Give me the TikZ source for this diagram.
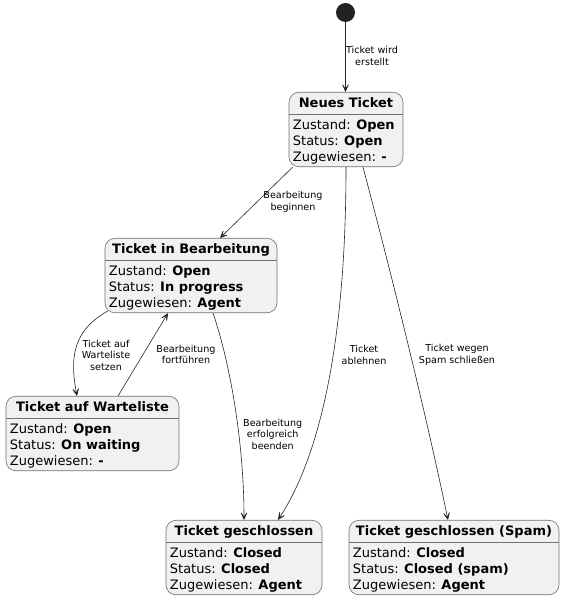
\documentclass[tikz,border=0pt]{standalone}
\usepackage{fontspec}
\setmainfont{DejaVu Sans}
\usepackage{tikz}
\usetikzlibrary{positioning,arrows.meta,calc}
\definecolor{umlFill}{HTML}{F1F1F1}
\definecolor{umlBorder}{HTML}{707070}
\definecolor{umlLine}{HTML}{262626}
\definecolor{umlStart}{HTML}{222222}
\newcommand{\titlefont}{\fontsize{13}{15}\selectfont\bfseries}
\newcommand{\bodyfont}{\fontsize{13}{16}\selectfont}
\newcommand{\labelfont}{\fontsize{9.6}{11.5}\selectfont}

\tikzset{
  zbox/.style={draw=umlBorder, fill=umlFill, line width=0.6pt, rounded corners=10pt,
    minimum height=74.5pt, inner sep=0pt, anchor=north},
  ztitle/.style={font=\titlefont, inner sep=0pt, anchor=base},
  zbody/.style={font=\bodyfont, align=left, inner sep=0pt, anchor=north west},
  zsep/.style={draw=umlBorder, line width=0.6pt},
  zedge/.style={draw=umlLine, line width=0.6pt, -{Stealth[length=10pt,width=9pt,inset=6.5pt]}},
  zlabel/.style={font=\labelfont, align=center, inner sep=1pt}
}

\begin{document}
\begin{tikzpicture}[x=1pt,y=1pt]
  \useasboundingbox (0,0) rectangle (566,599);

  % Start point
  \node[circle, fill=umlStart, minimum size=19pt, inner sep=0pt] (start) at (345.5,586.5) {};

  % Neues Ticket
  \node[zbox, minimum width=114pt] (neu) at (346,507) {};
  \node[ztitle] (neuT) at ($(neu.north)+(0,-15.8)$) {Neues Ticket};
  \draw[zsep] ($(neu.north west)+(0,-22.5)$) -- ($(neu.north east)+(0,-22.5)$);
  \node[zbody] (neuB) at ($(neu.north west)+(4,-27.8)$) {Zustand: \textbf{Open}\\Status: \textbf{Open}\\Zugewiesen: \textbf{-}};

  % Ticket in Bearbeitung
  \node[zbox, minimum width=172pt] (bear) at (191,361) {};
  \node[ztitle] (bearT) at ($(bear.north)+(0,-15.8)$) {Ticket in Bearbeitung};
  \draw[zsep] ($(bear.north west)+(0,-22.5)$) -- ($(bear.north east)+(0,-22.5)$);
  \node[zbody] (bearB) at ($(bear.north west)+(4,-27.8)$) {Zustand: \textbf{Open}\\Status: \textbf{In progress}\\Zugewiesen: \textbf{Agent}};

  % Ticket auf Warteliste
  \node[zbox, minimum width=173pt] (warte) at (92.5,203) {};
  \node[ztitle] (warteT) at ($(warte.north)+(0,-15.8)$) {Ticket auf Warteliste};
  \draw[zsep] ($(warte.north west)+(0,-22.5)$) -- ($(warte.north east)+(0,-22.5)$);
  \node[zbody] (warteB) at ($(warte.north west)+(4,-27.8)$) {Zustand: \textbf{Open}\\Status: \textbf{On waiting}\\Zugewiesen: \textbf{-}};

  % Ticket geschlossen
  \node[zbox, minimum width=156pt] (zu) at (244,79) {};
  \node[ztitle] (zuT) at ($(zu.north)+(0,-15.8)$) {Ticket geschlossen};
  \draw[zsep] ($(zu.north west)+(0,-22.5)$) -- ($(zu.north east)+(0,-22.5)$);
  \node[zbody] (zuB) at ($(zu.north west)+(4,-27.8)$) {Zustand: \textbf{Closed}\\Status: \textbf{Closed}\\Zugewiesen: \textbf{Agent}};

  % Ticket geschlossen (Spam)
  \node[zbox, minimum width=210pt] (spam) at (454,79) {};
  \node[ztitle] (spamT) at ($(spam.north)+(0,-15.8)$) {Ticket geschlossen (Spam)};
  \draw[zsep] ($(spam.north west)+(0,-22.5)$) -- ($(spam.north east)+(0,-22.5)$);
  \node[zbody] (spamB) at ($(spam.north west)+(4,-27.8)$) {Zustand: \textbf{Closed}\\Status: \textbf{Closed (spam)}\\Zugewiesen: \textbf{Agent}};

  % Transitions
  \draw[zedge] (start.south) -- (start.south |- neu.north);
  \draw[zedge] ([xshift=4pt]neu.south west) -- ([xshift=29pt]bear.north);
  \draw[zedge] (neu.south) .. controls (346,250) and (318,140) .. ([xshift=34pt]zu.north);
  \draw[zedge] ([xshift=17pt]neu.south) .. controls (390,330) and (425,190) .. ([xshift=-6pt]spam.north);
  \draw[zedge] ([shift={(3pt,2pt)}]bear.south west) .. controls (72,268) and (70,240) .. ([xshift=-15.5pt]warte.north);
  \draw[zedge] ([xshift=25.5pt]warte.north) -- ([xshift=-23pt]bear.south);
  \draw[zedge] ([xshift=22pt]bear.south) .. controls (232,230) and (244,150) .. (zu.north);

  % Labels
  \node[zlabel] (lErstellt) at (372,543) {Ticket wird\\erstellt};
  \node[zlabel] (lBeginnen) at (293,397) {Bearbeitung\\beginnen};
  \node[zlabel] (lSetzen) at (106,244) {Ticket auf\\Warteliste\\setzen};
  \node[zlabel] (lFortfuehren) at (186,244.5) {Bearbeitung\\fortführen};
  \node[zlabel] (lBeenden) at (272.7,165) {Bearbeitung\\erfolgreich\\beenden};
  \node[zlabel] (lAblehnen) at (364,244) {Ticket\\ablehnen};
  \node[zlabel] (lSpam) at (457,244) {Ticket wegen\\Spam schließen};
\end{tikzpicture}
\end{document}
